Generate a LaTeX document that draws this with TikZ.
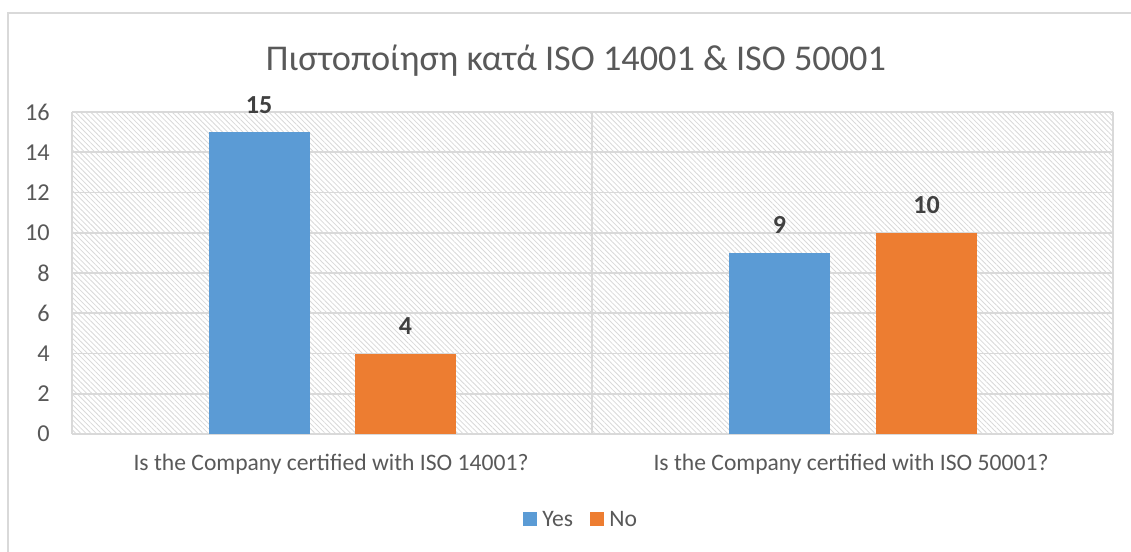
\documentclass[tikz,border=0pt]{standalone}
\usepackage{fontspec}
\setmainfont{Carlito}
\usetikzlibrary{patterns.meta}
\definecolor{yescol}{HTML}{5B9BD5}
\definecolor{nocol}{HTML}{ED7D31}
\definecolor{txtgray}{HTML}{595959}
\definecolor{valgray}{HTML}{404040}
\definecolor{gridgray}{HTML}{D9D9D9}

\begin{document}
\begin{tikzpicture}[
    x=0.75pt, y=-0.75pt,
    frame/.style={draw=gridgray, line width=1.3pt},
    gridline/.style={draw=gridgray, line width=1.4pt},
    hatch/.style={pattern={Lines[angle=-45, distance=2.7pt, line width=0.6pt]}, pattern color=gridgray},
    ticklabel/.style={anchor=east, text=txtgray, inner sep=0pt, font=\fontsize{18.2}{21}\selectfont},
    catlabel/.style={text=txtgray, inner sep=0pt, font=\fontsize{17.7}{20}\selectfont},
    vallabel/.style={anchor=base, text=valgray, inner sep=0pt, font=\bfseries\fontsize{19.5}{22}\selectfont},
    bar/.style={anchor=south, inner sep=0pt, outer sep=0pt, minimum width=75.75pt},
    legkey/.style={inner sep=0pt, minimum size=10.5pt},
    leglabel/.style={anchor=west, text=txtgray, inner sep=0pt, font=\fontsize{17.7}{20}\selectfont}
]
\useasboundingbox (0,0) rectangle (1131,551);
\clip (0,0) rectangle (1131,551);
\fill[white] (0,0) rectangle (1131,551);
\draw[frame] (8,13) rectangle (1145,565);

\node[anchor=base, text=txtgray, inner sep=0pt, font=\fontsize{27.2}{32}\selectfont] (title) at (576,70)
    {Πιστοποίηση κατά ISO 14001 \& ISO 50001};

\fill[hatch] (72,112) rectangle (1113,434);
\foreach \k in {0,2,...,16} {
    \draw[gridline] (72,{434-\k*20.125}) -- (1113,{434-\k*20.125});
    \node[ticklabel] (tick\k) at (50,{434-\k*20.125}) {\k};
}
\foreach \xv in {72,592,1113}
    \draw[gridline] (\xv,112) -- (\xv,434);

\foreach \nm/\xv/\v/\col in {yesA/259/15/yescol, noA/405.5/4/nocol, yesB/779.5/9/yescol, noB/926.5/10/nocol} {
    \node[bar, fill=\col, minimum height=\v*15.09375pt] (\nm) at (\xv,434) {};
    \node[vallabel] (val\nm) at ([yshift=14.25pt]\nm.north) {\v};
}

\node[catlabel] (catA) at (331,464) {Is the Company certified with ISO 14001?};
\node[catlabel] (catB) at (851,464) {Is the Company certified with ISO 50001?};

\node[legkey, fill=yescol] (keyyes) at (530,519) {};
\node[leglabel] (labyes) at (542,519) {Yes};
\node[legkey, fill=nocol] (keyno) at (597,519) {};
\node[leglabel] (labno) at (609,519) {No};
\end{tikzpicture}
\end{document}
